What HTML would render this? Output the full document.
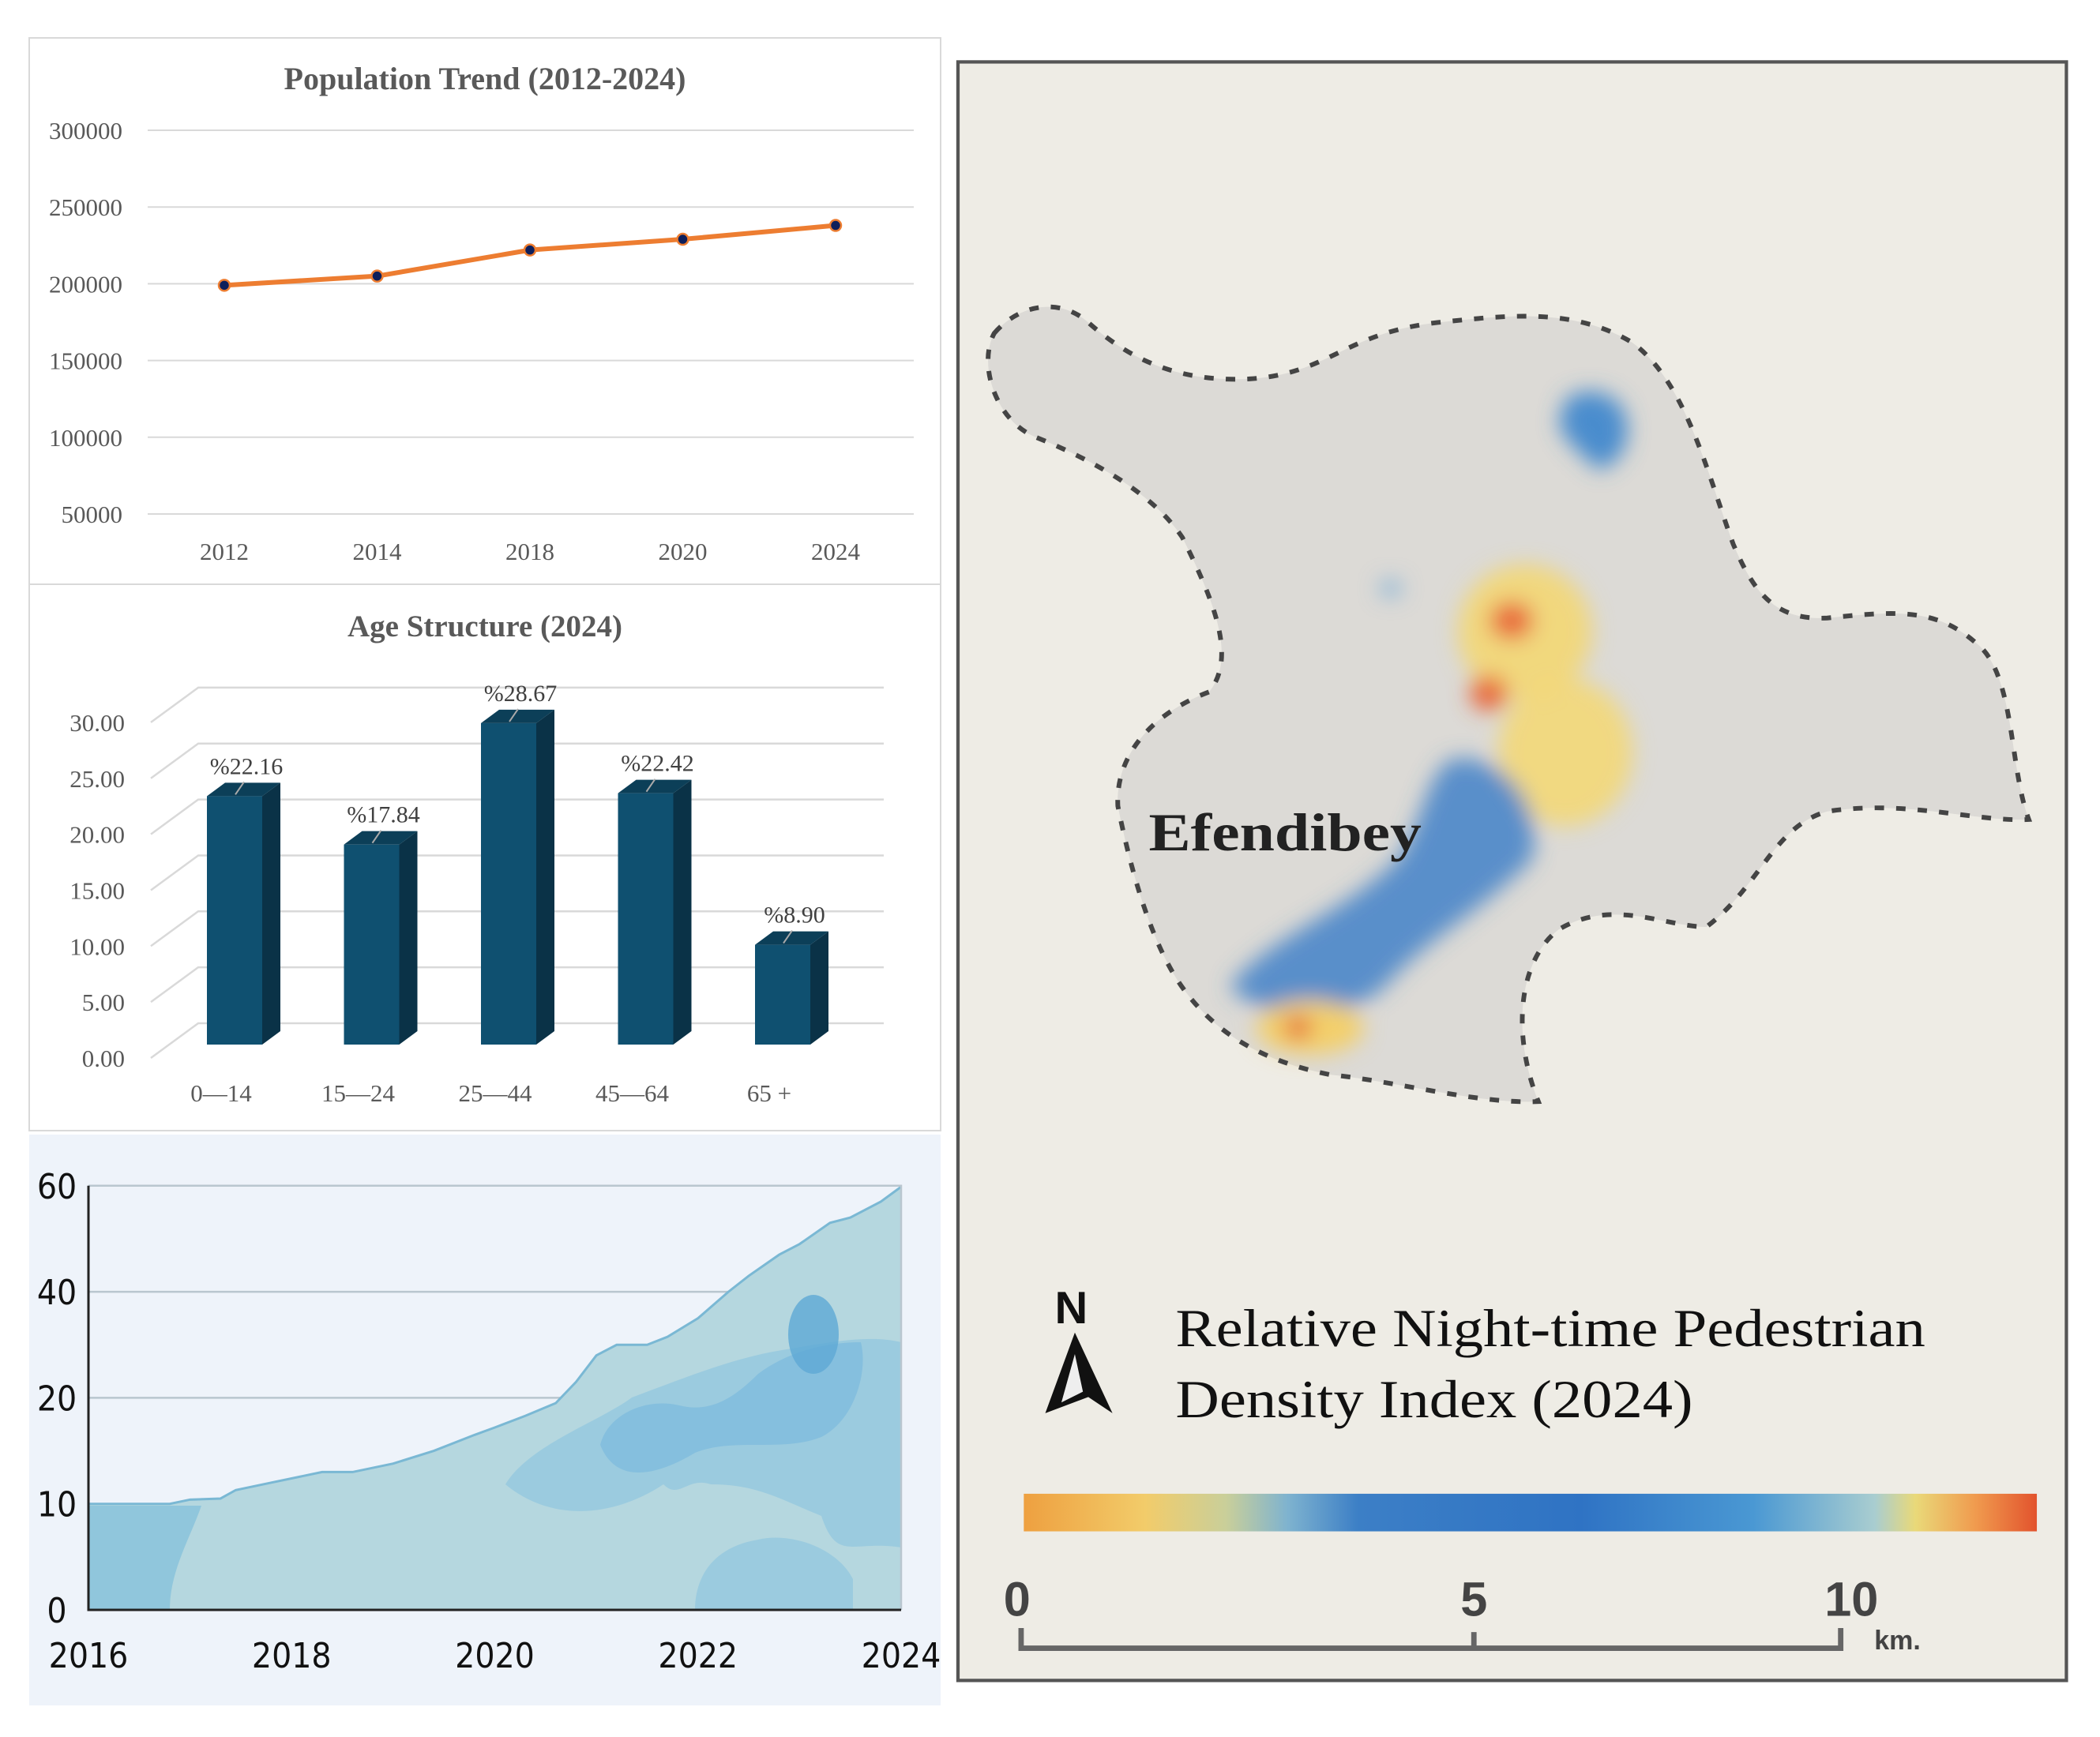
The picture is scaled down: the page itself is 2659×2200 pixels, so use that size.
<!DOCTYPE html>
<html><head><meta charset="utf-8"><style>
html,body{margin:0;padding:0;background:#fff;width:2659px;height:2200px;overflow:hidden}
svg{position:absolute;left:0;top:0}
</style></head><body>
<svg id="main" width="2659" height="2200" viewBox="0 0 2659 2200" xmlns="http://www.w3.org/2000/svg">
<defs>
<linearGradient id="cbar" x1="0" x2="1" y1="0" y2="0">
<stop offset="0" stop-color="#eea040"/><stop offset="0.12" stop-color="#f2cc6a"/><stop offset="0.2" stop-color="#c9cf9a"/>
<stop offset="0.26" stop-color="#7fb3cf"/><stop offset="0.33" stop-color="#3c7fc6"/><stop offset="0.55" stop-color="#2f73c4"/>
<stop offset="0.72" stop-color="#4a98d3"/><stop offset="0.84" stop-color="#a9cdd0"/><stop offset="0.88" stop-color="#e9d979"/>
<stop offset="0.94" stop-color="#f09a4e"/><stop offset="1" stop-color="#e2532d"/></linearGradient>
<clipPath id="areaClip"><path id="areaClipPath" d=""/></clipPath>
</defs>
<g id="lineChart"></g>
<g id="barChart"></g>
<g id="areaChart"></g>
</svg>
<svg id="map" width="2659" height="2200" viewBox="0 0 1563 1293" xmlns="http://www.w3.org/2000/svg">
<defs>
<filter id="blur8"><feGaussianBlur stdDeviation="8"/></filter>
<linearGradient id="cbar2" x1="0" x2="1" y1="0" y2="0">
<stop offset="0" stop-color="#eea040"/><stop offset="0.12" stop-color="#f2cc6a"/><stop offset="0.2" stop-color="#c9cf9a"/>
<stop offset="0.26" stop-color="#7fb3cf"/><stop offset="0.33" stop-color="#3c7fc6"/><stop offset="0.55" stop-color="#2f73c4"/>
<stop offset="0.72" stop-color="#4a98d3"/><stop offset="0.84" stop-color="#a9cdd0"/><stop offset="0.88" stop-color="#e9d979"/>
<stop offset="0.94" stop-color="#f09a4e"/><stop offset="1" stop-color="#e2532d"/></linearGradient>
</defs>
<rect x="713" y="46" width="825" height="1205" fill="#eeece5" stroke="#555" stroke-width="2.5"/>
<path d="M740,248 C760,225 790,222 810,240 C835,262 870,285 930,282 C990,278 1000,248 1070,240 C1120,235 1170,228 1215,255 C1255,285 1270,350 1290,405 C1305,440 1320,462 1360,460 C1410,455 1440,452 1470,478 C1500,500 1495,570 1510,610 C1470,612 1420,595 1360,604 C1320,615 1310,660 1270,690 C1240,690 1200,668 1160,692 C1130,715 1125,770 1145,820 C1100,822 1040,805 990,800 C940,790 905,770 880,735 C855,700 840,640 832,600 C830,560 860,530 900,515 C920,490 905,450 880,400 C860,370 820,345 770,325 C740,312 728,270 740,248 Z" fill="#dcdad6"/>
<g filter="url(#blur8)">
<path d="M1165,298 C1180,285 1205,292 1210,310 C1215,330 1205,345 1190,350 C1180,340 1165,330 1160,315 Z" fill="#4a8ccd"/>
<ellipse cx="1135" cy="470" rx="50" ry="50" fill="#f3d774" opacity="0.9"/>
<ellipse cx="1165" cy="560" rx="50" ry="55" fill="#f3d878" opacity="0.9"/>
<ellipse cx="1125" cy="462" rx="16" ry="14" fill="#e8673a"/>
<ellipse cx="1108" cy="516" rx="14" ry="13" fill="#e8673a"/>
<path d="M1080,565 C1120,560 1150,600 1140,640 C1100,680 1060,700 1030,735 C1000,760 950,765 915,735 C940,700 1000,680 1040,640 C1060,610 1060,580 1080,565 Z" fill="#4a86c9" opacity="0.9"/>
<ellipse cx="975" cy="765" rx="40" ry="20" fill="#f3cf6a"/>
<ellipse cx="966" cy="765" rx="10" ry="8" fill="#e35c35"/>
<ellipse cx="1035" cy="438" rx="8" ry="6" fill="#7fb0d8"/>
</g>
<path d="M740,248 C760,225 790,222 810,240 C835,262 870,285 930,282 C990,278 1000,248 1070,240 C1120,235 1170,228 1215,255 C1255,285 1270,350 1290,405 C1305,440 1320,462 1360,460 C1410,455 1440,452 1470,478 C1500,500 1495,570 1510,610 C1470,612 1420,595 1360,604 C1320,615 1310,660 1270,690 C1240,690 1200,668 1160,692 C1130,715 1125,770 1145,820 C1100,822 1040,805 990,800 C940,790 905,770 880,735 C855,700 840,640 832,600 C830,560 860,530 900,515 C920,490 905,450 880,400 C860,370 820,345 770,325 C740,312 728,270 740,248 Z" fill="none" stroke="#444" stroke-width="3.5" stroke-dasharray="7,9"/>
<text x="855" y="633" font-family="Liberation Serif, serif" font-weight="bold" font-size="40" fill="#222" textLength="203" lengthAdjust="spacingAndGlyphs">Efendibey</text>
<g>
<text x="785" y="985" font-family="Liberation Sans, sans-serif" font-weight="bold" font-size="34" fill="#111">N</text>
<path d="M800,992 L828,1052 L810,1040 L778,1052 Z" fill="#111"/>
<path d="M800,1008 L790,1044 L806,1036 Z" fill="#eee"/>
</g>
<text x="875" y="1002" font-family="Liberation Serif, serif" font-size="40" fill="#111" textLength="558" lengthAdjust="spacingAndGlyphs">Relative Night-time Pedestrian</text>
<text x="875" y="1055" font-family="Liberation Serif, serif" font-size="40" fill="#111" textLength="385" lengthAdjust="spacingAndGlyphs">Density Index (2024)</text>
<rect x="762" y="1112" width="754" height="28" fill="url(#cbar2)"/>
<g font-family="Liberation Sans, sans-serif" font-weight="bold" fill="#444" font-size="36">
<text x="757" y="1203" text-anchor="middle">0</text>
<text x="1097" y="1203" text-anchor="middle">5</text>
<text x="1378" y="1203" text-anchor="middle">10</text>
<text x="1395" y="1228" font-size="20">km.</text>
<path d="M760,1212 L760,1227 L1370,1227 L1370,1212 M1097,1215 L1097,1227" fill="none" stroke="#666" stroke-width="4"/>
</g>
</svg>
<script>
const NS='http://www.w3.org/2000/svg';
function mk(parent,tag,attrs,text){const e=document.createElementNS(NS,tag);for(const k in attrs)e.setAttribute(k,attrs[k]);if(text!==undefined)e.textContent=text;parent.appendChild(e);return e;}

// ---------- Line chart data ----------
const popYears=['2012','2014','2018','2020','2024'];
const popValues=[199000,205000,222000,229000,238000];
const popTicks=[50000,100000,150000,200000,250000,300000];

// ---------- Bar chart data ----------
const ageGroups=['0\u201414','15\u201424','25\u201444','45\u201464','65 +'];
const agePercents=[22.16,17.84,28.67,22.42,8.90];
const ageTicks=[0,5,10,15,20,25,30];

// ---------- Area chart data ----------
const areaYearTicks=[2016,2018,2020,2022,2024];
const areaValueTicks=[0,10,20,40,60];
const areaYears=[2016,2016.8,2017.0,2017.3,2017.45,2017.8,2018.3,2018.6,2019.0,2019.4,2019.8,2020.0,2020.3,2020.6,2020.8,2021.0,2021.2,2021.5,2021.7,2022.0,2022.3,2022.5,2022.8,2023.0,2023.3,2023.5,2023.8,2024.0];
const areaValues=[10,10,10.4,10.5,11.3,12,13,13,13.8,15,16.5,17.2,18.3,19.5,23,28,30,30,31.5,35,40,43,47,49,53,54,57,59.8];

// Line chart
(function(){
 const g=document.getElementById('lineChart');
 mk(g,'rect',{x:37,y:48,width:1154,height:692,fill:'#fff',stroke:'#d9d9d9','stroke-width':2,});
 const t=mk(g,'text',{x:614,y:113,'text-anchor':'middle','font-family':'Liberation Serif, serif','font-weight':'bold','font-size':40,fill:'#595959'},'Population Trend (2012-2024)');
 
 
 const y=v=>651-(v-50000)/50000*97.2;
 const x=i=>284+i*193.5;
 popTicks.forEach(v=>{
  const l=mk(g,'line',{x1:187,x2:1157,y1:y(v),y2:y(v),stroke:'#d9d9d9','stroke-width':2});
  
  
  const tx=mk(g,'text',{x:155,y:y(v)+11,'text-anchor':'end','font-family':'Liberation Serif, serif','font-size':31,fill:'#595959'},String(v));
  
  
 });
 popYears.forEach((yr,i)=>{
  const tx=mk(g,'text',{x:x(i),y:709,'text-anchor':'middle','font-family':'Liberation Serif, serif','font-size':31,fill:'#595959'},yr);
  
  
 });
 const pl=mk(g,'polyline',{points:popValues.map((v,i)=>x(i)+','+y(v)).join(' '),fill:'none',stroke:'#ed7d31','stroke-width':6,'stroke-linejoin':'round'});
 
 
 popValues.forEach((v,i)=>{
  const c=mk(g,'circle',{cx:x(i),cy:y(v),r:7,fill:'#0e1f5b',stroke:'#ed7d31','stroke-width':2.5});
  
  
 });
})();

// Bar chart
(function(){
 const g=document.getElementById('barChart');
 mk(g,'rect',{x:37,y:740,width:1154,height:692,fill:'#fff',stroke:'#d9d9d9','stroke-width':2,});
 const t=mk(g,'text',{x:614,y:806,'text-anchor':'middle','font-family':'Liberation Serif, serif','font-weight':'bold','font-size':39,fill:'#595959'},'Age Structure (2024)');
 
 
 const base=1323, k=14.2, dx=23, dy=17;
 const y=v=>base-v*k;
 const gy=v=>1340-v*14.17;
 ageTicks.forEach(v=>{
  const yy=gy(v);
  const p=mk(g,'path',{d:`M191,${yy} L251,${yy-44} L1119,${yy-44}`,fill:'none',stroke:'#d9d9d9','stroke-width':2.5});
  
  
  const tx=mk(g,'text',{x:158,y:yy+11,'text-anchor':'end','font-family':'Liberation Serif, serif','font-size':31,fill:'#595959'},v.toFixed(2));
  
  
 });
 agePercents.forEach((v,i)=>{
  const x0=262+i*173.5, w=70, top=y(v);
  const f=mk(g,'rect',{x:x0,y:top,width:w,height:base-top,fill:'#0f5070'});
  
  
  const s=mk(g,'path',{d:`M${x0+w},${top} L${x0+w+dx},${top-dy} L${x0+w+dx},${base-dy} L${x0+w},${base} Z`,fill:'#0a3247'});
  
  
  const tp=mk(g,'path',{d:`M${x0},${top} L${x0+dx},${top-dy} L${x0+w+dx},${top-dy} L${x0+w},${top} Z`,fill:'#0c3f58'});
  
  
  const ld=mk(g,'line',{x1:x0+36,y1:top-2,x2:x0+47,y2:top-18,stroke:'#aaa','stroke-width':2});
  
  
  const lb=mk(g,'text',{x:x0+50,y:top-28,'text-anchor':'middle','font-family':'Liberation Serif, serif','font-size':30,fill:'#404040'},'%'+v.toFixed(2));
  
  
  const cl=mk(g,'text',{x:x0+18,y:1395,'text-anchor':'middle','font-family':'Liberation Serif, serif','font-size':31,fill:'#595959'},ageGroups[i]);
  
  
 });
})();

// Area chart
(function(){
 const g=document.getElementById('areaChart');
 mk(g,'rect',{x:37,y:1437,width:1154,height:723,fill:'#eef3fa',});
 const x0=112,x1=1141,y0=2039,step=134.3;
 const x=yr=>x0+(yr-2016)/8*(x1-x0);
 const y=v=>{for(let i=0;i<areaValueTicks.length-1;i++){const a=areaValueTicks[i],b=areaValueTicks[i+1];if(v<=b||i===areaValueTicks.length-2)return y0-(i+(v-a)/(b-a))*step;}};
 areaValueTicks.forEach(v=>{
  if(v>0){const l=mk(g,'line',{x1:x0,x2:x1,y1:y(v),y2:y(v),stroke:'#b9c6cf','stroke-width':2.5});
  
  }
  const tx=mk(g,'text',{x:72,y:y(v)+16,'text-anchor':'middle','font-family':'DejaVu Sans Condensed, DejaVu Sans, sans-serif','font-size':44,fill:'#111'},String(v));
  
  
 });
 areaYearTicks.forEach(yr=>{
  const tx=mk(g,'text',{x:x(yr),y:2112,'text-anchor':'middle','font-family':'DejaVu Sans Condensed, DejaVu Sans, sans-serif','font-size':44,fill:'#111'},String(yr));
  
  
 });
 const pts=areaYears.map((yr,i)=>x(yr)+','+y(areaValues[i]));
 const d='M'+x0+','+y0+' L'+pts.join(' L')+' L'+x1+','+y0+' Z';
 document.getElementById('areaClipPath').setAttribute('d',d);
 const a=mk(g,'path',{d:d,fill:'#b5d7df'});
 
 
 const blobs=mk(g,'g',{'clip-path':'url(#areaClip)'});
 
 
 mk(blobs,'path',{d:`M${x0},${y0} L${x0},1907 L255,1907 C240,1950 215,1990 215,${y0} Z`,fill:'#90c6dc'});
 mk(blobs,'path',{d:'M640,1880 C670,1830 760,1800 800,1770 C880,1740 930,1720 990,1710 C1050,1700 1100,1690 1141,1700 L1141,1960 C1080,1950 1060,1980 1040,1920 C990,1900 960,1880 900,1880 C870,1870 860,1900 840,1880 C780,1920 700,1930 640,1880 Z',fill:'#97c9df',opacity:'0.85'});
 mk(blobs,'path',{d:'M880,2039 C880,2000 900,1960 960,1950 C1000,1940 1060,1960 1080,2000 L1080,2039 Z',fill:'#97c9df',opacity:'0.85'});
 mk(blobs,'path',{d:'M760,1830 C770,1790 820,1770 860,1780 C900,1790 930,1770 960,1740 C1000,1710 1050,1700 1090,1700 C1100,1740 1080,1800 1040,1820 C990,1840 930,1820 880,1840 C830,1870 780,1880 760,1830 Z',fill:'#7fbbdd',opacity:'0.8'});
 mk(blobs,'ellipse',{cx:1030,cy:1690,rx:32,ry:50,fill:'#5ea9d5',opacity:'0.8'});
 const st=mk(g,'polyline',{points:pts.join(' '),fill:'none',stroke:'#7ab8d4','stroke-width':3});
 
 
 const fr=mk(g,'path',{d:`M${x0},${y(60)} L${x1},${y(60)} L${x1},${y0}`,fill:'none',stroke:'#b9c6cf','stroke-width':2.5});
 
 
 const ax=mk(g,'path',{d:`M${x0},${y(60)} L${x0},${y0} L${x1},${y0}`,fill:'none',stroke:'#222','stroke-width':3});
 
 
})();
</script>
</body></html>
